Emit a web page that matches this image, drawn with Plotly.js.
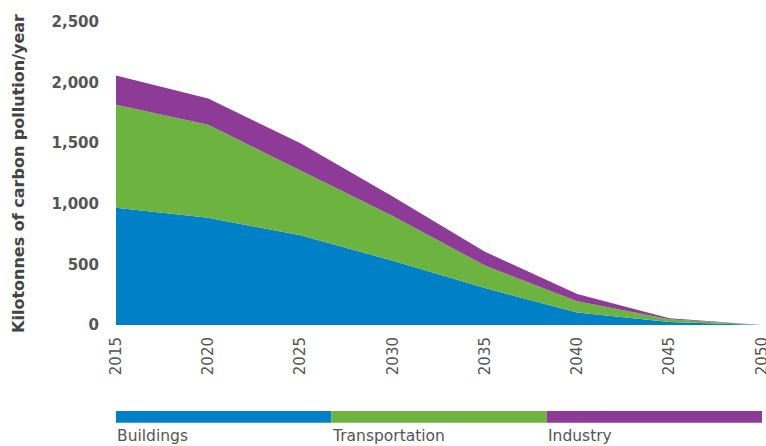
<!DOCTYPE html>
<html>
<head>
<meta charset="utf-8">
<script src="https://cdn.plot.ly/plotly-3.0.1.min.js"></script>
<style>html,body{margin:0;padding:0;background:#fff;}#chart{width:766px;height:446px;}</style>
</head>
<body>
<div id="chart"></div>
<script>
const years = [2015, 2020, 2025, 2030, 2035, 2040, 2045, 2050];
const buildings = [967, 884, 740, 530, 305, 103, 25, 0];
const transportation = [851, 769, 535, 370, 185, 92, 23, 0];
const industry = [240, 215, 225, 160, 115, 60, 7, 0];
const seriesNames = ["Buildings", "Transportation", "Industry"];
const seriesColors = ["#0080c6", "#6db33f", "#8e3b97"];
const yTicks = [0, 500, 1000, 1500, 2000, 2500];
const xTicks = [2015, 2020, 2025, 2030, 2035, 2040, 2045, 2050];

const seriesValues = [buildings, transportation, industry];
const traces = seriesValues.map((vals, i) => ({
  x: years, y: vals, name: seriesNames[i], type: 'scatter', mode: 'lines',
  stackgroup: 'one', line: {width: 0, color: seriesColors[i]}, fillcolor: seriesColors[i],
  hoverinfo: 'x+y+name'
}));

const font = "'DejaVu Sans', 'Open Sans', sans-serif";
const shapes = [];
const annotations = [];
seriesNames.forEach((n, i) => {
  shapes.push({type: 'rect', xref: 'paper', yref: 'paper', x0: i/3, x1: (i+1)/3,
    y0: -0.323, y1: -0.284, fillcolor: seriesColors[i], line: {width: 0}});
  annotations.push({text: n, xref: 'paper', yref: 'paper', x: i/3, y: -0.331,
    xanchor: 'left', yanchor: 'top', showarrow: false,
    font: {family: font, size: 15.5, color: '#555'}, xshift: -1});
});

const layout = {
  width: 766, height: 446,
  margin: {l: 116, r: 4, t: 22, b: 121},
  paper_bgcolor: '#fff', plot_bgcolor: '#fff',
  showlegend: false,
  xaxis: {range: [2015, 2050.02], tickvals: xTicks, ticktext: xTicks.map(String),
    tickangle: -90, showgrid: false, zeroline: false, showline: false, ticks: '',
    ticklabeloverflow: 'allow', ticklabelstandoff: 8,
    tickfont: {family: font, size: 15, color: '#555'}, fixedrange: true},
  yaxis: {range: [0, 2500], tickvals: yTicks, tickformat: ',', showgrid: false,
    zeroline: false, showline: false, ticks: '', ticklabelstandoff: 16,
    tickfont: {family: font, size: 15, color: '#555', weight: 'bold'},
    title: {text: 'Kilotonnes of carbon pollution/year', standoff: 22,
      font: {family: font, size: 16, color: '#444', weight: 'bold'}}, fixedrange: true},
  shapes: shapes, annotations: annotations
};
Plotly.newPlot('chart', traces, layout, {displayModeBar: false, staticPlot: true});
</script>
</body>
</html>
